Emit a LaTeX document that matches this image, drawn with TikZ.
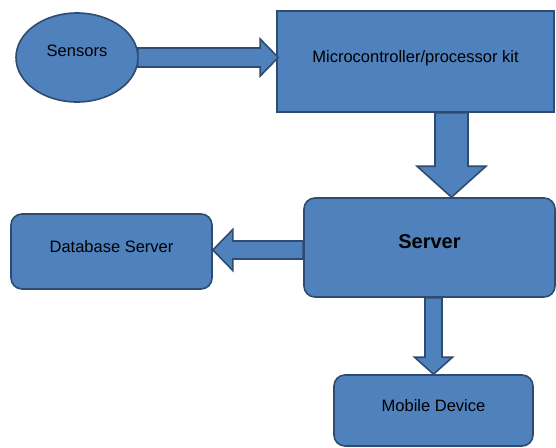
\documentclass[tikz,border=0pt]{standalone}
\usepackage{fontspec}
\setmainfont{Liberation Sans}
\usetikzlibrary{shapes.geometric,calc}
\definecolor{boxfill}{RGB}{79,129,189}
\definecolor{boxline}{RGB}{47,75,112}
\newcommand\fatarrow[5]{% from, to, shaft half width, head half width, head length
 \coordinate (hb) at ($(#2)!#5!(#1)$);
 \draw[fatarr] ($(#1)!#3!90:(#2)$) -- ($(hb)!#3!90:(#2)$) -- ($(hb)!#4!90:(#2)$) -- (#2)
   -- ($(hb)!#4!-90:(#2)$) -- ($(hb)!#3!-90:(#2)$) -- ($(#1)!#3!-90:(#2)$) -- cycle;
}
\begin{document}
\begin{tikzpicture}[x=1pt,y=-1pt,
  blk/.style={draw=boxline, fill=boxfill, line width=1.6pt, inner sep=0pt,
    font=\fontsize{16.5}{18}\selectfont, text height=12pt, text depth=10pt},
  rbox/.style={blk, rounded corners=11pt},
  fatarr/.style={draw=boxline, fill=boxfill, line width=1.6pt, line join=miter}]
\useasboundingbox (0,0) rectangle (556,447);
\node[blk, ellipse, minimum width=122pt, minimum height=89pt, text depth=14pt] (sens) at (77,57.5) {Sensors};
\node[blk, minimum width=277pt, minimum height=101pt] (mcu) at (415.5,61.5) {Microcontroller/processor kit};
\node[rbox, minimum width=251pt, minimum height=99pt, font=\fontsize{20}{22}\selectfont\bfseries] (srv) at (429.5,247.5) {Server};
\node[rbox, minimum width=201pt, minimum height=75pt] (db) at (111.5,251.5) {Database Server};
\node[rbox, minimum width=199pt, minimum height=71pt] (mob) at (433.5,410.5) {Mobile Device};
\coordinate (a1) at ([xshift=-1pt]sens.east);
\coordinate (b1) at ([xshift=2pt]mcu.west |- a1);
\coordinate (a2) at ([xshift=36pt]mcu.south);
\coordinate (b2) at (srv.north -| a2);
\coordinate (a3) at ([yshift=-2.5pt]srv.west);
\coordinate (b3) at (db.east |- a3);
\coordinate (a4) at (srv.south -| mob.north);
\coordinate (b4) at (mob.north);
\foreach \s/\e/\w/\h/\l in {a1/b1/9.5pt/18.5pt/18pt, a2/b2/16.5pt/34.5pt/31pt, a3/b3/9pt/20.5pt/20pt, a4/b4/8.5pt/19pt/17pt}
 {\fatarrow{\s}{\e}{\w}{\h}{\l}}
\end{tikzpicture}
\end{document}
